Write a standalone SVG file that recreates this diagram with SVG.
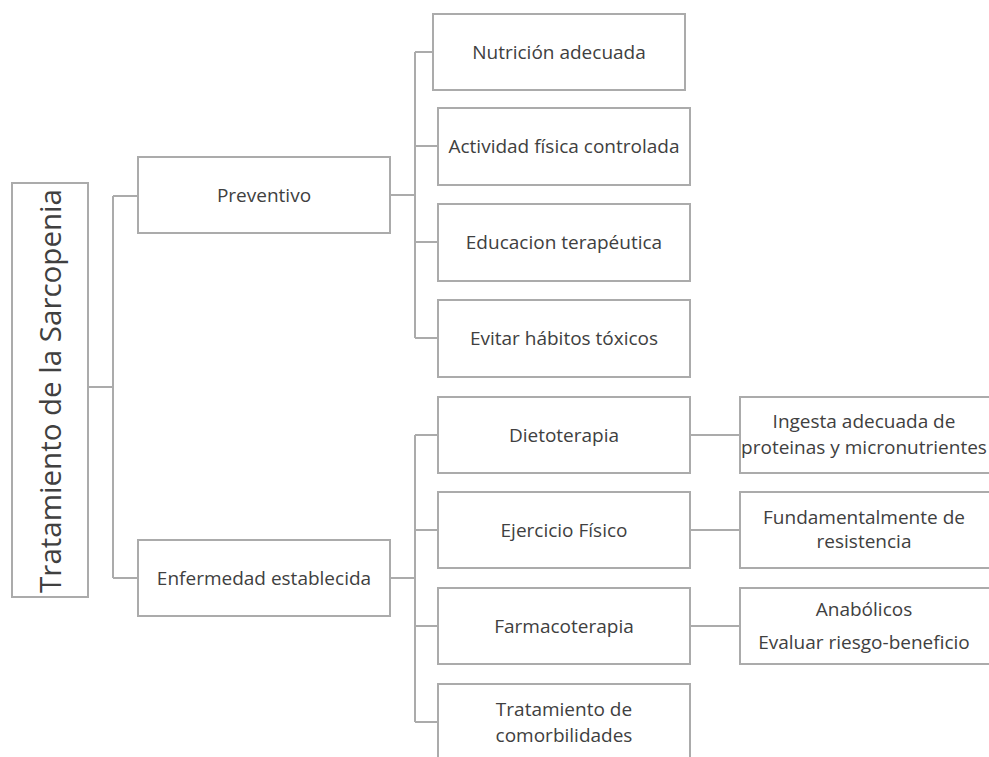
<svg xmlns="http://www.w3.org/2000/svg" width="989" height="757" viewBox="0 0 989 757">
<style>
.box{fill:#fff;stroke:#ababab;stroke-width:2}
.ln{fill:none;stroke:#ababab;stroke-width:2}
text{font-family:"Open Sans","Liberation Sans",sans-serif;font-size:19px;fill:#404040;text-anchor:middle;dominant-baseline:central}
.root{font-size:29.5px}
</style>
<rect width="989" height="757" fill="#fff"/>
<g id="connectors">
<path class="ln" d="M88,387 H113 M113,196 V578 M113,196 H138 M113,578 H138"/>
<path class="ln" d="M390,195 H415 M415,52 V338 M415,52 H433 M415,146 H438 M415,242 H438 M415,338 H438"/>
<path class="ln" d="M390,578 H415 M415,435 V722 M415,435 H438 M415,530 H438 M415,626 H438 M415,722 H438"/>
<path class="ln" d="M690,435 H740 M690,530 H740 M690,626 H740"/>
</g>
<g id="root"><rect class="box" x="12" y="183" width="76" height="414"/><text class="root" transform="translate(49,391) rotate(-90)">Tratamiento de la Sarcopenia</text></g>
<g id="preventivo"><rect class="box" x="138" y="157" width="252" height="76"/><text x="264" y="195">Preventivo</text></g>
<g id="enfermedad"><rect class="box" x="138" y="540" width="252" height="76"/><text x="264" y="578">Enfermedad establecida</text></g>
<g id="nutricion"><rect class="box" x="433" y="14" width="252" height="76"/><text x="559" y="52">Nutrición adecuada</text></g>
<g id="actividad"><rect class="box" x="438" y="108" width="252" height="77"/><text x="564" y="146">Actividad física controlada</text></g>
<g id="educacion"><rect class="box" x="438" y="204" width="252" height="77"/><text x="564" y="242">Educacion terapéutica</text></g>
<g id="evitar"><rect class="box" x="438" y="300" width="252" height="77"/><text x="564" y="338">Evitar hábitos tóxicos</text></g>
<g id="dieto"><rect class="box" x="438" y="397" width="252" height="76"/><text x="564" y="435">Dietoterapia</text></g>
<g id="ejercicio"><rect class="box" x="438" y="492" width="252" height="76"/><text x="564" y="530">Ejercicio Físico</text></g>
<g id="farmaco"><rect class="box" x="438" y="588" width="252" height="76"/><text x="564" y="626">Farmacoterapia</text></g>
<g id="comorb"><rect class="box" x="438" y="684" width="252" height="80"/><text x="564" y="709">Tratamiento de</text><text x="564" y="735">comorbilidades</text></g>
<g id="ingesta"><rect class="box" x="740" y="397" width="260" height="76"/><text x="864" y="421">Ingesta adecuada de</text><text x="864" y="447">proteinas y micronutrientes</text></g>
<g id="fundamental"><rect class="box" x="740" y="492" width="260" height="76"/><text x="864" y="517">Fundamentalmente de</text><text x="864" y="541">resistencia</text></g>
<g id="anabolicos"><rect class="box" x="740" y="588" width="260" height="76"/><text x="864" y="609">Anabólicos</text><text x="864" y="642">Evaluar riesgo-beneficio</text></g>
</svg>
